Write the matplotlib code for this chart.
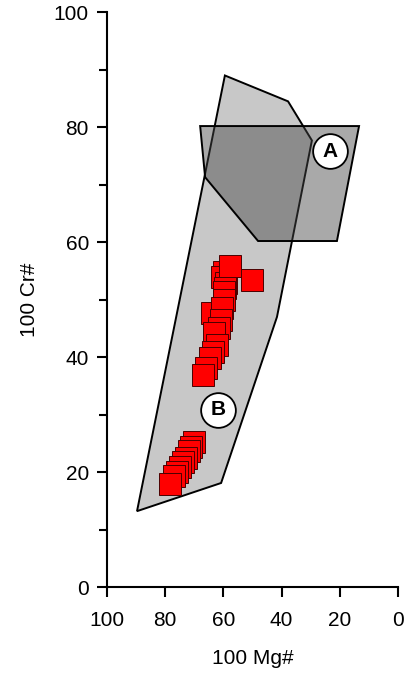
import matplotlib
matplotlib.use("Agg")
import matplotlib.pyplot as plt
from matplotlib.patches import Polygon
from matplotlib.ticker import MultipleLocator

plt.rcParams['font.family'] = ['Liberation Sans', 'DejaVu Sans']

# Field outlines (100 Mg#, 100 Cr#)
field_b_mg = [89.7, 60.8, 41.6, 29.6, 37.8, 59.5]
field_b_cr = [13.2, 18.1, 47.0, 77.7, 84.5, 89.0]
field_a_mg = [68.0, 13.4, 21.0, 48.1, 66.3]
field_a_cr = [80.2, 80.2, 60.2, 60.2, 71.3]

# Field labels
label_names = ['A', 'B']
label_mg = [23.4, 61.9]
label_cr = [75.8, 30.8]

# Spinel analyses
spinel_mg = [59.8, 60.5, 59.1, 59.5, 59.8, 57.7, 50.2, 63.9, 59.8, 60.5,
             60.8, 61.5, 63.2, 62.2, 63.6, 64.6, 66.0, 67.0,
             70.1, 71.1, 71.8, 72.9, 73.9, 74.9, 75.9, 77.0, 78.4]
spinel_cr = [54.8, 53.9, 52.9, 52.0, 51.3, 55.8, 53.4, 47.7, 49.9, 48.5,
             46.4, 45.0, 44.2, 42.1, 40.9, 39.8, 38.1, 36.9,
             25.2, 24.3, 23.7, 22.4, 21.7, 20.9, 20.0, 19.3, 17.9]

fig = plt.figure(figsize=(4.07, 6.81), dpi=100)
ax = fig.add_axes([0.263, 0.138, 0.715, 0.844])

poly_b = Polygon(list(zip(field_b_mg, field_b_cr)), closed=True,
                 facecolor='#c8c8c8', edgecolor='black', linewidth=1.4, zorder=1)
ax.add_patch(poly_b)
poly_a_fill = Polygon(list(zip(field_a_mg, field_a_cr)), closed=True,
                      facecolor=(0.27, 0.27, 0.27, 0.46), edgecolor='none', zorder=2)
ax.add_patch(poly_a_fill)
poly_a_edge = Polygon(list(zip(field_a_mg, field_a_cr)), closed=True,
                      facecolor='none', edgecolor='black', linewidth=1.4, zorder=3)
ax.add_patch(poly_a_edge)

ax.plot(spinel_mg, spinel_cr, linestyle='none', marker='s', markersize=16,
        markerfacecolor='#ff0000', markeredgecolor='#4a0000',
        markeredgewidth=0.7, zorder=5)

for name, mx, cy in zip(label_names, label_mg, label_cr):
    ax.plot([mx], [cy], linestyle='none', marker='o', markersize=25,
            markerfacecolor='white', markeredgecolor='black',
            markeredgewidth=1.3, zorder=6)
    ax.text(mx, cy, name, ha='center', va='center', fontsize=15,
            fontweight='bold', zorder=7)

ax.set_xlim(100, 0)
ax.set_ylim(0, 100)
ax.xaxis.set_major_locator(MultipleLocator(20))
ax.yaxis.set_major_locator(MultipleLocator(20))
ax.yaxis.set_minor_locator(MultipleLocator(10))

for side in ('top', 'right'):
    ax.spines[side].set_visible(False)
for side in ('left', 'bottom'):
    ax.spines[side].set_linewidth(1.5)

ax.tick_params(axis='both', which='major', direction='out', length=7,
               width=1.5, labelsize=15)
ax.tick_params(axis='x', which='major', pad=10)
ax.tick_params(axis='y', which='major', pad=6)
ax.tick_params(axis='y', which='minor', direction='out', length=6, width=1.5)

ax.set_xlabel('100 Mg#', fontsize=15, labelpad=14)
ax.set_ylabel('100 Cr#', fontsize=15, labelpad=11)

fig.savefig('out.png', dpi=100)
